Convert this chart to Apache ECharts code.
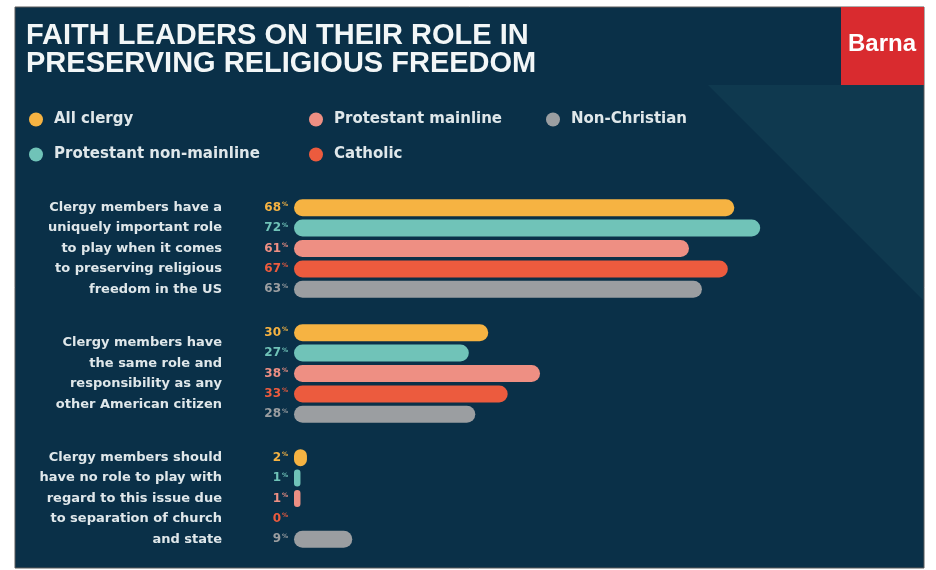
<!DOCTYPE html>
<html><head><meta charset="utf-8">
<script src="https://cdn.jsdelivr.net/npm/echarts@6/dist/echarts.min.js"></script>
<style>html,body{margin:0;padding:0;background:#fff}#c{width:936px;height:570px}</style>
</head><body><div id="c"></div>
<script>
const titleText = 'FAITH LEADERS ON THEIR ROLE IN\nPRESERVING RELIGIOUS FREEDOM';
const brandText = 'Barna';
const statements = [
  'Clergy members have a\nuniquely important role\nto play when it comes\nto preserving religious\nfreedom in the US',
  'Clergy members have\nthe same role and\nresponsibility as any\nother American citizen',
  'Clergy members should\nhave no role to play with\nregard to this issue due\nto separation of church\nand state'
];
const seriesNames = ['All clergy', 'Protestant non-mainline', 'Protestant mainline', 'Catholic', 'Non-Christian'];
const allClergy = [68, 30, 2];
const protNonMainline = [72, 27, 1];
const protMainline = [61, 38, 1];
const catholic = [67, 33, 0];
const nonChristian = [63, 28, 9];
const seriesValues = [allClergy, protNonMainline, protMainline, catholic, nonChristian];
const colors = ['#f6b342', '#70c3b8', '#ee8f83', '#ec5b3e', '#9b9ea1'];

const BODY_FONT = 'DejaVu Sans';
const chart = echarts.init(document.getElementById('c'));

const series = seriesNames.map((name, i) => ({
  name: name,
  type: 'bar',
  data: seriesValues[i],
  barWidth: 17,
  barGap: '20%',
  itemStyle: { color: colors[i], borderRadius: 8.5 },
  label: {
    show: true,
    position: 'left',
    distance: 6,
    formatter: p => '{n|' + p.value + '}{p|%}',
    rich: {
      n: { fontFamily: BODY_FONT, fontWeight: 'bold', fontSize: 12, color: colors[i] },
      p: { fontFamily: BODY_FONT, fontWeight: 'bold', fontSize: 6, color: colors[i], padding: [0, 0, 6, 1] }
    }
  }
}));

const legendBase = {
  orient: 'vertical',
  icon: 'circle',
  itemWidth: 14,
  itemHeight: 14,
  itemGap: 20,
  top: 107,
  textStyle: { fontFamily: BODY_FONT, fontWeight: 'bold', fontSize: 15, color: '#dfe7ea', padding: [0, 0, 0, 6] }
};

chart.setOption({
  backgroundColor: '#ffffff',
  animation: false,
  title: {
    text: titleText,
    left: 21,
    top: 17,
    textStyle: { fontFamily: 'Liberation Sans', fontWeight: 'bold', fontSize: 29, lineHeight: 28, color: '#f2f6f7' }
  },
  legend: [
    Object.assign({}, legendBase, { left: 24, data: [seriesNames[0], seriesNames[1]] }),
    Object.assign({}, legendBase, { left: 304, data: [seriesNames[2], seriesNames[3]] }),
    Object.assign({}, legendBase, { left: 541, data: [seriesNames[4]] })
  ],
  graphic: [
    { type: 'rect', z: -10, shape: { x: 15, y: 7, width: 909, height: 561 }, style: { fill: '#0a3048', stroke: '#5a5a5a', lineWidth: 1 } },
    { type: 'polygon', z: -9, shape: { points: [[708, 85], [923, 85], [923, 300]] }, style: { fill: '#0f394f' } },
    { type: 'rect', z: -8, shape: { x: 841, y: 7, width: 83, height: 78 }, style: { fill: '#d92b2f' } },
    { type: 'text', z: -7, x: 882, y: 44, style: { text: brandText, fill: '#ffffff', font: 'bold 24px "Liberation Sans"', align: 'center', verticalAlign: 'middle' } }
  ],
  grid: { left: 294, right: 124, top: 186, height: 375, containLabel: false },
  xAxis: { type: 'value', min: 0, max: 80, show: false, splitLine: { show: false } },
  yAxis: {
    type: 'category',
    inverse: true,
    data: statements,
    axisLine: { show: false },
    axisTick: { show: false },
    axisLabel: {
      margin: 72,
      align: 'right',
      fontFamily: BODY_FONT,
      fontWeight: 'bold',
      fontSize: 13,
      lineHeight: 20.5,
      color: '#dfe7ea'
    }
  },
  series: series
});
</script></body></html>
